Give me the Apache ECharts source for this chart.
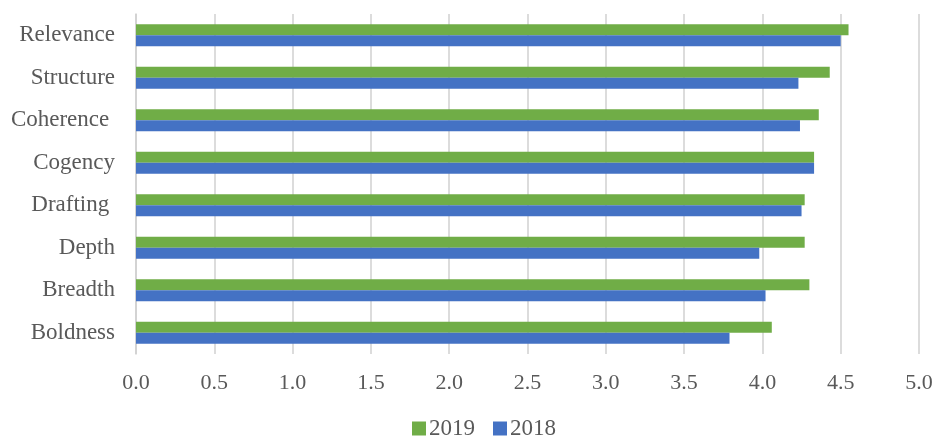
<!DOCTYPE html>
<html>
<head>
<meta charset="utf-8">
<script src="https://cdn.jsdelivr.net/npm/echarts@6/dist/echarts.min.js"></script>
<style>html,body{margin:0;padding:0;background:#fff}#c{width:937px;height:439px}</style>
</head>
<body>
<div id="c"></div>
<script>
const categories = ["Relevance", "Structure", "Coherence ", "Cogency", "Drafting ", "Depth", "Breadth", "Boldness"];
const values2019 = [4.55, 4.43, 4.36, 4.33, 4.27, 4.27, 4.30, 4.06];
const values2018 = [4.50, 4.23, 4.24, 4.33, 4.25, 3.98, 4.02, 3.79];
const xTicks = { min: 0, max: 5, interval: 0.5 };

const font = "Liberation Serif";
const textColor = "#595959";
const chart = echarts.init(document.getElementById('c'), null, { renderer: 'canvas' });
chart.setOption({
  animation: false,
  backgroundColor: '#fff',
  grid: { left: 136, right: 18, top: 14, bottom: 85, containLabel: false },
  legend: {
    top: 412,
    left: 407,
    itemWidth: 14, itemHeight: 14, itemGap: 18,
    icon: 'rect',
    textStyle: { fontFamily: font, fontSize: 23, color: textColor, padding: [0, 0, 0, -2] },
    data: ['2019', '2018']
  },
  xAxis: {
    type: 'value',
    min: xTicks.min, max: xTicks.max, interval: xTicks.interval,
    axisLine: { show: false },
    axisTick: { show: false },
    splitLine: { show: true, lineStyle: { color: '#d0d0d0', width: 1.5 } },
    axisLabel: { fontFamily: font, fontSize: 22, color: textColor, margin: 18,
      formatter: v => v.toFixed(1) }
  },
  yAxis: {
    type: 'category',
    inverse: true,
    data: categories,
    axisLine: { show: true, lineStyle: { color: '#d0d0d0', width: 1.5 } },
    axisTick: { show: false },
    axisLabel: { fontFamily: font, fontSize: 23, color: textColor, margin: 21 }
  },
  series: [
    { name: '2019', type: 'bar', data: values2019, barWidth: 11, barGap: '0%',
      itemStyle: { color: '#70ad47' } },
    { name: '2018', type: 'bar', data: values2018, barWidth: 11, barGap: '0%',
      itemStyle: { color: '#4472c4' } }
  ]
});
</script>
</body>
</html>
